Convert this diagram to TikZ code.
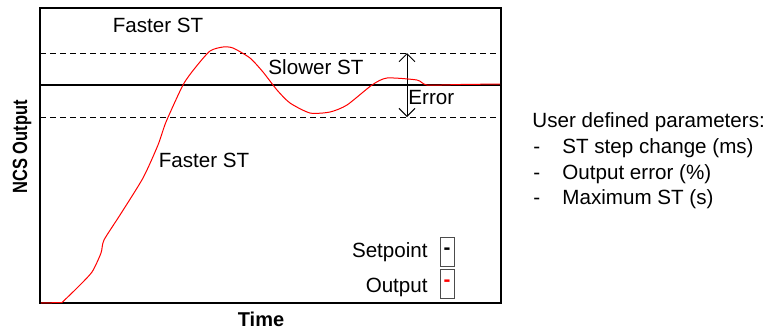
\documentclass[tikz,border=0pt]{standalone}
\usepackage{fontspec}
\setmainfont{Liberation Sans}
\usetikzlibrary{arrows.meta}
\tikzset{
  txt/.style={inner sep=0pt},
  legbox/.style={draw=black!70, line width=0.4pt, minimum width=7pt, minimum height=14.5pt, inner sep=0pt, font=\fontsize{10.3}{12}\selectfont\bfseries},
  limit/.style={dashed, line width=0.5pt, dash pattern=on 3pt off 2pt}
}

\begin{document}
\begin{tikzpicture}[x=0.5pt,y=-0.5pt,font=\fontsize{10.3}{12}\selectfont]
\useasboundingbox (0,0) rectangle (772,334);
% plot frame and reference lines
\draw[line width=1pt] (40,8) rectangle (501,303);
\coordinate (uplim) at (407,53);
\coordinate (lowlim) at (407,117);
\draw[limit] (40,53) -- (501,53);
\draw[limit] (40,117) -- (501,117);
\draw[line width=1pt] (40,85) -- (501,85);
\draw[{Straight Barb[length=4pt]}-{Straight Barb[length=4pt]}, line width=0.5pt] (uplim) -- (lowlim);
% response
\draw[red, line width=0.5pt] (41,303) -- (62,302.5)
  plot[smooth, tension=0.4] coordinates {
  (62,302.5) (77,288) (92,272) (101,253) (104,240) (120,215)
  (143,178) (158,145) (166,122) (183,85) (195,68) (210,51) (223,47)
  (233,48) (250,58) (263,72) (277,90) (290,103) (310,113) (330,112)
  (347,105) (372,85) (387,78) (417,80) (427,85) (460,84.5) (500,84)};
% labels
\node[txt] (fasttop) at (158,25) {Faster ST};
\node[txt] (slow) at (316,67) {Slower ST};
\node[txt, anchor=west] (err) at (408,98) {Error};
\node[txt] (fastlow) at (204,160) {Faster ST};
% legend
\node[txt, anchor=base east] (setlab) at (428,257) {Setpoint};
\node[txt, anchor=base east] (outlab) at (428,292) {Output};
\node[legbox] (setbox) at (447,251.5) {-};
\node[legbox, text=red] (outbox) at (447,283.5) {-};
% axes
\node[txt, rotate=90, anchor=base, font=\fontsize{10.3}{12}\selectfont\bfseries] (ylab) at (27,147) {\scalebox{0.8}[1]{NCS Output}};
\node[txt, anchor=base, font=\fontsize{10}{12}\selectfont\bfseries] (xlab) at (261,326) {Time};
% parameters
\node[txt, anchor=base west] (par) at (532,127) {User defined parameters:};
\node[txt, anchor=base west] (d1) at (533,153) {-};
\node[txt, anchor=base west] (p1) at (562,153) {ST step change (ms)};
\node[txt, anchor=base west] (d2) at (533,179) {-};
\node[txt, anchor=base west] (p2) at (562,179) {Output error (\%)};
\node[txt, anchor=base west] (d3) at (533,204) {-};
\node[txt, anchor=base west] (p3) at (562,204) {Maximum ST (s)};
\end{tikzpicture}
\end{document}
